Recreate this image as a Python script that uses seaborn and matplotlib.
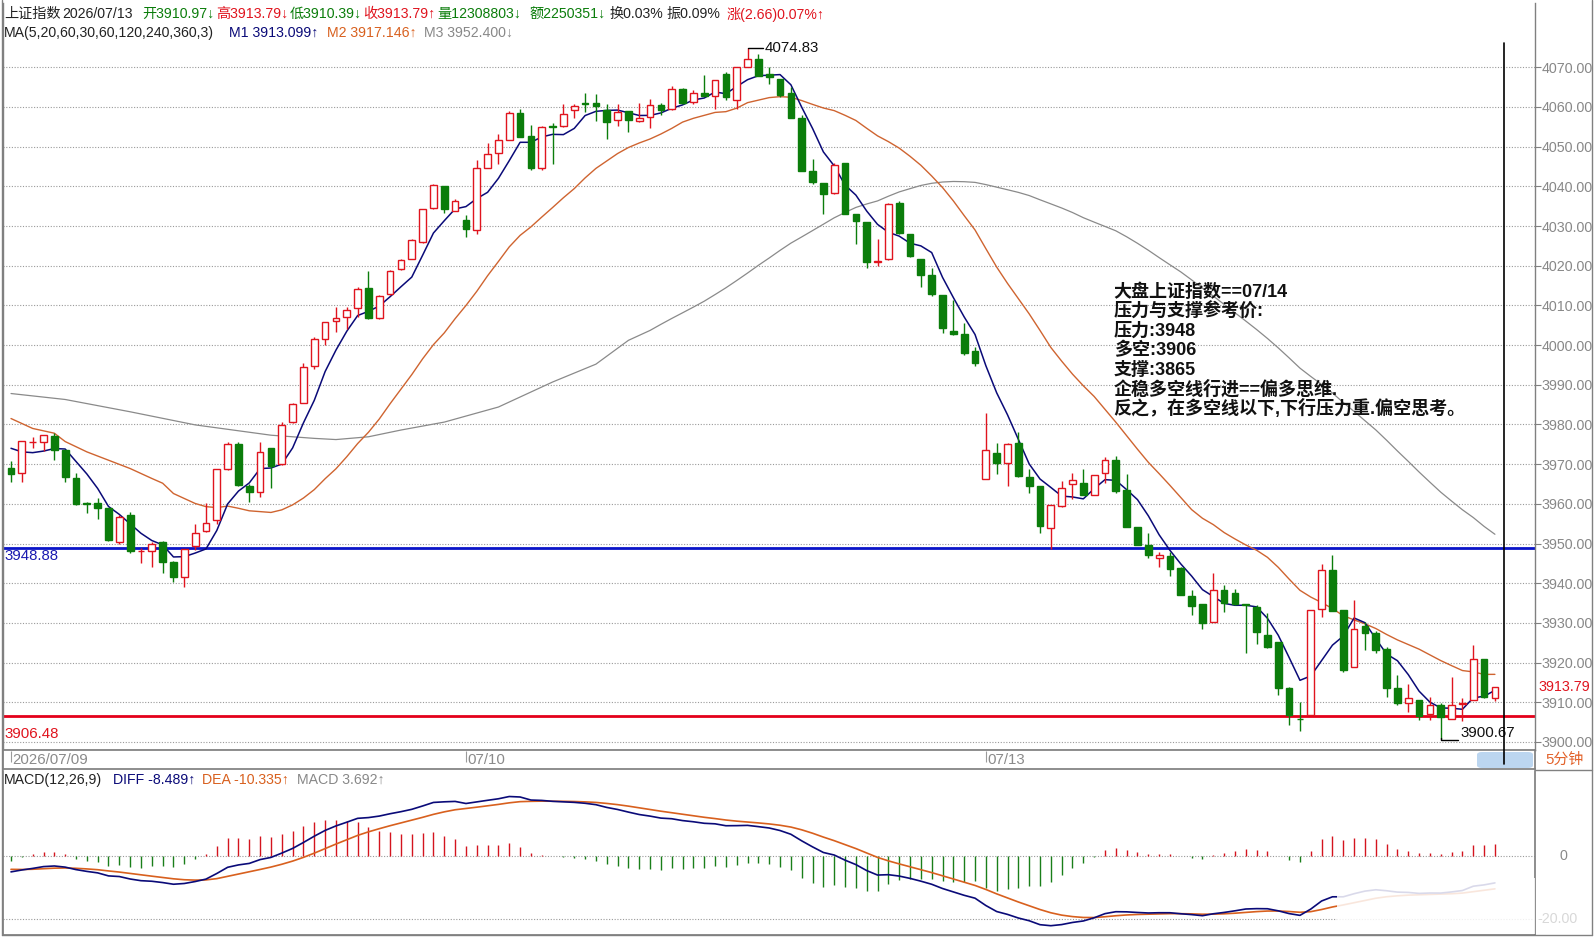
import numpy as np
import pandas as pd
import matplotlib
matplotlib.use("Agg")
import matplotlib.pyplot as plt
from matplotlib.lines import Line2D
from matplotlib.patches import FancyBboxPatch, Rectangle
import seaborn as sns

# === 5 minute bars, 上证指数 2026/07/09 (partial) - 07/10 - 07/13 ===
opens = [3969.1, 3967.9, 3975.5, 3975.7, 3977.1, 3973.6, 3966.6, 3960.1, 3960.3, 3958.9,
         3950.3, 3957.2, 3948.0, 3948.2, 3950.3, 3945.3, 3941.6, 3949.4, 3953.1, 3955.9,
         3968.8, 3975.2, 3964.5, 3962.9, 3974.0, 3970.0, 3980.7, 3985.5, 3994.8, 4001.5,
         4006.1, 4007.1, 4009.4, 4014.5, 4006.9, 4012.8, 4019.3, 4021.8, 4026.0, 4034.6,
         4040.0, 4033.8, 4031.4, 4029.1, 4044.7, 4048.4, 4051.8, 4058.6, 4052.6, 4044.5,
         4055.3, 4055.1, 4059.2, 4061.0, 4061.0, 4059.3, 4056.6, 4058.9, 4056.4, 4057.6,
         4060.4, 4059.6, 4064.6, 4061.3, 4063.5, 4062.7, 4068.2, 4061.7, 4070.1, 4072.2,
         4068.2, 4067.1, 4063.4, 4057.2, 4043.8, 4040.9, 4038.3, 4046.0, 4033.1, 4031.0,
         4021.0, 4021.8, 4035.9, 4028.1, 4021.8, 4017.7, 4012.5, 4003.6, 4002.8, 3998.5,
         3966.2, 3972.7, 3970.4, 3975.3, 3966.8, 3964.6, 3953.8, 3959.4, 3964.9, 3965.3,
         3962.2, 3967.7, 3971.0, 3963.4, 3954.2, 3949.6, 3946.4, 3946.9, 3943.8, 3936.7,
         3934.7, 3930.2, 3938.3, 3937.5, 3934.7, 3934.1, 3927.0, 3925.1, 3913.5, 3905.9,
         3906.9, 3933.5, 3943.4, 3933.3, 3919.0, 3929.1, 3927.4, 3923.4, 3913.7, 3909.9,
         3910.7, 3907.0, 3909.4, 3905.9, 3909.5, 3910.7, 3920.9, 3910.97]
highs = [3970.8, 3975.8, 3976.9, 3977.3, 3977.8, 3973.6, 3967.7, 3960.5, 3961.6, 3959.0,
         3957.2, 3958.0, 3948.8, 3950.5, 3950.7, 3945.6, 3948.5, 3954.9, 3960.3, 3968.7,
         3975.5, 3975.5, 3965.0, 3975.7, 3974.1, 3980.7, 3985.3, 3995.5, 4002.0, 4005.9,
         4009.6, 4009.6, 4014.6, 4018.7, 4012.5, 4018.8, 4021.8, 4026.7, 4034.4, 4040.5,
         4040.0, 4036.9, 4032.7, 4046.6, 4050.9, 4053.3, 4059.0, 4059.4, 4055.4, 4055.1,
         4056.0, 4060.8, 4060.7, 4063.6, 4063.2, 4060.8, 4060.8, 4058.9, 4061.1, 4062.1,
         4061.0, 4065.3, 4064.8, 4064.2, 4068.0, 4066.9, 4068.8, 4070.1, 4074.83, 4073.4,
         4070.1, 4067.1, 4065.0, 4057.9, 4047.0, 4040.9, 4045.9, 4046.0, 4033.1, 4031.0,
         4026.8, 4035.8, 4036.2, 4028.1, 4021.8, 4019.4, 4012.5, 4011.3, 4005.5, 3999.5,
         3982.9, 3975.4, 3975.3, 3978.2, 3968.7, 3964.6, 3959.6, 3965.7, 3967.8, 3968.7,
         3967.3, 3971.8, 3972.1, 3967.6, 3954.2, 3952.7, 3947.9, 3947.9, 3944.2, 3938.2,
         3934.7, 3942.6, 3939.6, 3938.5, 3934.7, 3934.5, 3932.4, 3925.1, 3913.9, 3910.1,
         3933.3, 3944.9, 3947.0, 3933.3, 3935.8, 3930.3, 3928.0, 3924.0, 3916.8, 3914.5,
         3910.7, 3911.4, 3909.7, 3916.4, 3911.0, 3924.4, 3920.9, 3913.79]
lows = [3965.4, 3965.6, 3974.0, 3973.3, 3971.0, 3965.6, 3959.7, 3957.6, 3956.1, 3950.6,
        3950.0, 3947.7, 3945.0, 3944.2, 3942.5, 3940.4, 3939.1, 3948.4, 3953.0, 3954.9,
        3968.5, 3964.5, 3960.5, 3961.8, 3963.9, 3969.8, 3980.4, 3985.3, 3994.0, 4000.0,
        4003.3, 4004.1, 4007.1, 4006.7, 4006.7, 4012.5, 4018.8, 4021.6, 4025.7, 4034.4,
        4033.3, 4033.8, 4027.2, 4028.1, 4044.5, 4045.6, 4051.6, 4052.4, 4044.2, 4044.2,
        4045.7, 4055.0, 4057.1, 4058.7, 4056.5, 4052.0, 4055.2, 4053.7, 4056.1, 4054.8,
        4057.9, 4059.3, 4060.8, 4060.7, 4062.8, 4059.6, 4061.8, 4059.4, 4070.1, 4067.8,
        4065.7, 4062.4, 4057.3, 4043.9, 4040.5, 4033.0, 4038.0, 4033.1, 4025.6, 4019.4,
        4019.9, 4021.5, 4028.1, 4022.2, 4014.6, 4012.3, 4003.0, 4002.5, 3997.5, 3994.8,
        3966.2, 3967.4, 3964.6, 3966.8, 3962.8, 3952.7, 3948.5, 3959.2, 3961.1, 3962.2,
        3962.2, 3965.3, 3962.8, 3954.2, 3949.6, 3946.4, 3944.2, 3941.9, 3937.1, 3932.0,
        3928.4, 3930.2, 3932.7, 3934.5, 3922.3, 3924.6, 3923.6, 3911.8, 3904.4, 3902.7,
        3906.9, 3931.6, 3932.9, 3917.7, 3919.0, 3923.2, 3922.3, 3911.4, 3909.3, 3907.6,
        3905.5, 3905.5, 3900.67, 3905.9, 3905.2, 3910.7, 3911.0, 3910.39]
closes = [3967.4, 3975.8, 3975.6, 3977.3, 3973.6, 3966.8, 3960.0, 3960.0, 3959.0, 3950.9,
          3956.8, 3948.1, 3948.1, 3949.9, 3945.4, 3941.6, 3948.5, 3952.6, 3955.1, 3968.7,
          3975.0, 3964.7, 3962.9, 3973.1, 3969.5, 3979.9, 3985.1, 3994.5, 4001.5, 4005.7,
          4006.9, 4008.9, 4014.2, 4006.9, 4012.3, 4018.7, 4021.4, 4026.4, 4034.4, 4040.3,
          4034.2, 4036.3, 4029.3, 4044.5, 4048.2, 4051.8, 4058.6, 4052.4, 4044.5, 4055.0,
          4055.0, 4058.3, 4060.2, 4060.7, 4060.3, 4056.2, 4058.7, 4056.8, 4057.3, 4060.4,
          4059.3, 4064.6, 4061.0, 4063.6, 4062.8, 4066.9, 4062.4, 4070.1, 4072.2, 4067.8,
          4067.6, 4063.1, 4057.3, 4043.9, 4041.1, 4038.0, 4045.5, 4033.1, 4031.3, 4021.0,
          4021.2, 4035.6, 4028.2, 4022.4, 4017.6, 4012.8, 4004.4, 4002.7, 3998.0, 3995.5,
          3973.5, 3970.2, 3975.0, 3967.0, 3964.6, 3954.5, 3959.6, 3964.1, 3965.9, 3962.2,
          3967.3, 3971.0, 3963.2, 3954.2, 3949.6, 3947.0, 3947.0, 3943.6, 3937.1, 3934.3,
          3929.9, 3938.3, 3935.0, 3934.7, 3934.4, 3927.8, 3923.9, 3913.6, 3906.7, 3905.7,
          3933.3, 3943.4, 3932.9, 3918.1, 3928.5, 3927.4, 3923.2, 3913.6, 3909.7, 3911.0,
          3906.5, 3909.4, 3906.3, 3909.3, 3909.7, 3920.9, 3911.4, 3913.79]

ma5_head = [3974.0, 3973.1, 3972.9, 3973.3]
ma20_head_idx = [0, 2, 4, 5, 7, 9, 11, 13, 14, 15, 17, 18]
ma20_head_val = [3981.5, 3979.0, 3977.8, 3975.7, 3973.1, 3971.0, 3968.9, 3966.4, 3965.2, 3962.6, 3960.1, 3959.3]
ma60_head_idx = [0, 5, 11, 17, 24, 28, 30, 33, 36, 40, 45, 50, 54, 57]
ma60_head_val = [3987.8, 3986.3, 3983.2, 3979.9, 3977.3, 3976.5, 3976.2, 3976.9, 3978.6, 3980.6,
                 3984.4, 3990.7, 3995.2, 4001.2]

# MACD state at the first bar
diff_start = -5.0
dea_start = -4.2
ema26_start = 3978.0

day_start_idx = [0, 42, 90]
day_labels = ["2026/07/09", "07/10", "07/13"]

pressure_line = 3948.88
pivot_line = 3906.48

note_lines = ["大盘上证指数==07/14", "压力与支撑参考价:", "压力:3948", "多空:3906", "支撑:3865",
              "企稳多空线行进==偏多思维.", "反之，在多空线以下,下行压力重.偏空思考。"]

RED = "#e0141e"
GREEN = "#0b7d0b"
NAVY = "#0a0a78"
ORANGE = "#d8601e"

sns.set_theme(style="white")
plt.rcParams['font.family'] = ['Liberation Sans', 'Noto Sans CJK SC', 'DejaVu Sans']
plt.rcParams['axes.unicode_minus'] = False

W, H = 1596, 938
def box(x0, y0, x1, y1):
    return [x0 / W, 1 - y1 / H, (x1 - x0) / W, (y1 - y0) / H]

def ft(x, y, s, **kw):
    fig.text(x / W, 1 - y / H, s, va="center", ha="left", **kw)

def fline(xs, ys, **kw):
    fig.add_artist(Line2D([x / W for x in xs], [1 - y / H for y in ys], transform=fig.transFigure, **kw))

fig = plt.figure(figsize=(W / 100, H / 100), dpi=100)
fig.patch.set_facecolor("white")

ax = fig.add_axes(box(3, 3, 1535, 750))
axd = fig.add_axes(box(3, 750, 1535, 769))
axm = fig.add_axes(box(3, 771, 1535, 935))

xlim = (-0.74, 140.7)
idx = np.arange(len(closes))
o = np.array(opens); c = np.array(closes); hi = np.array(highs); lo = np.array(lows)
up = c >= o
cols = np.where(up, RED, GREEN)
face = np.where(up, "white", GREEN)

# === price panel ===
for lv in range(3900, 4071, 10):
    ax.axhline(lv, color="#9a9a9a", lw=0.8, ls=(0, (1, 1.5)), zorder=1)

ax.axhline(pressure_line, color="#0a14c8", lw=2, zorder=2)
ax.axhline(pivot_line, color="#e4001a", lw=2, zorder=2)

# moving averages
cs = pd.Series(closes)
ma5 = cs.rolling(5).mean()
ma5.iloc[:4] = ma5_head
ma20 = cs.rolling(20).mean()
ma20.iloc[ma20_head_idx] = ma20_head_val
ma60 = cs.rolling(60).mean()
ma60.iloc[ma60_head_idx] = ma60_head_val
for ser, col, lw in [(ma60, "#8a8a8a", 0.9), (ma20, "#cf6430", 1.0), (ma5, NAVY, 1.1)]:
    s = ser.dropna()
    sns.lineplot(x=s.index.values, y=s.values, ax=ax, color=col, linewidth=lw, legend=False, zorder=3)

# candles
ax.vlines(idx, lo, hi, colors=cols, lw=1, zorder=4)
ax.bar(idx, np.abs(c - o), bottom=np.minimum(o, c), width=0.62, color=face,
       edgecolor=cols, linewidth=1, zorder=5)

# max / min markers
imax = int(np.argmax(hi)); imin = int(np.argmin(lo))
ax.plot([imax, imax + 1.45], [hi[imax]] * 2, color="black", lw=1, zorder=6)
ax.text(imax + 1.55, hi[imax], f"{hi[imax]:.2f}", fontsize=10.8, va="center", color="#111111")
ax.plot([imin, imin, imin + 1.6], [lo[imin] + 0.3, lo[imin] - 0.2, lo[imin] - 0.2], color="black", lw=1, zorder=6)
ax.text(imin + 1.8, lo[imin] - 0.2, f"{lo[imin]:.2f}", fontsize=10.8, va="bottom", color="#111111")

ax.text(-0.65, pressure_line - 1.9, f"{pressure_line:.2f}", color="#1a1ab0", fontsize=10.8, va="center")
ax.text(-0.65, pivot_line - 4.4, f"{pivot_line:.2f}", color=RED, fontsize=10.8, va="center")

for k, line in enumerate(note_lines):
    ax.text(101.8, 4013.3 - k * 4.89, line, fontsize=13, fontweight="bold", color="#111111", va="center")

ax.set_xlim(*xlim)
ax.set_ylim(3897.98, 4086.2)
ax.yaxis.tick_right()
ax.set_yticks(range(3900, 4071, 10))
ax.set_yticklabels([f"{v:.2f}" for v in range(3900, 4071, 10)])
ax.tick_params(axis="y", right=True, length=4, width=0.8, color="#808080", labelcolor="#888888",
               labelsize=10.3, pad=1)
ax.set_xticks([])
ax.text(1.002, closes[-1], f"{closes[-1]:.2f}", transform=ax.get_yaxis_transform(), color=RED,
        fontsize=10.3, va="center", ha="left", zorder=8,
        bbox=dict(facecolor="white", edgecolor="none", pad=0.5))
for side in ["left", "right", "bottom"]:
    ax.spines[side].set_color("#808080"); ax.spines[side].set_linewidth(1)
ax.spines["top"].set_visible(False)
ax.set_xlabel(""); ax.set_ylabel("")

# === date axis ===
axd.set_xlim(*xlim); axd.set_ylim(0, 1)
axd.set_xticks([]); axd.set_yticks([])
axd.vlines(day_start_idx, 0.35, 0.95, color="#9a9a9a", lw=0.8)
for i, lab in zip(day_start_idx, day_labels):
    axd.text(i + 0.15, 0.45, lab, color="#8a8a8a", fontsize=10.8, va="center")
for side in axd.spines.values():
    side.set_color("#808080")

# === MACD panel ===
a12, a26, a9 = 2 / 13, 2 / 27, 2 / 10
e12, e26, dea = ema26_start + diff_start, ema26_start, dea_start
diffs, deas = [diff_start], [dea_start]
for cl in closes[1:]:
    e12 += a12 * (cl - e12)
    e26 += a26 * (cl - e26)
    d = e12 - e26
    dea += a9 * (d - dea)
    diffs.append(d); deas.append(dea)
diffs = np.array(diffs); deas = np.array(deas)
hist = 2 * (diffs - deas)

axm.axhline(0, color="#9a9a9a", lw=0.8, ls=(0, (1, 1.5)))
axm.axhline(-20, color="#9a9a9a", lw=0.8, ls=(0, (1, 1.5)))
axm.vlines(idx, 0, hist, colors=np.where(hist >= 0, "#d4141e", "#1a7f1a"), lw=1)
sns.lineplot(x=idx, y=deas, ax=axm, color=ORANGE, linewidth=1.2, legend=False)
sns.lineplot(x=idx, y=diffs, ax=axm, color=NAVY, linewidth=1.2, legend=False)
axm.set_xlim(*xlim); axm.set_ylim(-24.9, 26.8)
axm.set_xticks([]); axm.set_yticks([])
axm.set_xlabel(""); axm.set_ylabel("")
axm.spines["top"].set_visible(False)
for side in ["left", "right", "bottom"]:
    axm.spines[side].set_color("#808080")
# faded watermark area at the lower right
axm.add_patch(Rectangle((122.4, -24.5), 20, 17.5, facecolor="white", edgecolor="none", alpha=0.85, zorder=6))

# === header texts ===
row1 = [("上证指数", 4, "#222222"), ("2026/07/13", 62, "#222222"), ("开3910.97↓", 142, GREEN),
        ("高3913.79↓", 216, RED), ("低3910.39↓", 290, GREEN), ("收3913.79↑", 363, RED),
        ("量12308803↓", 437, GREEN), ("额2250351↓", 529, GREEN), ("换0.03%", 610, "#222222"),
        ("振0.09%", 666, "#222222"), ("涨(2.66)0.07%↑", 727, RED)]
for s, x, col in row1:
    ft(x, 14, s, color=col, fontsize=10.2)
row2 = [("MA(5,20,60,30,60,120,240,360,3)", 4, "#222222"), ("M1 3913.099↑", 229, NAVY),
        ("M2 3917.146↑", 327, ORANGE), ("M3 3952.400↓", 424, "#888888")]
for s, x, col in row2:
    ft(x, 33, s, color=col, fontsize=10.2)
row3 = [("MACD(12,26,9)", 4, "#222222"), ("DIFF -8.489↑", 113, NAVY),
        ("DEA -10.335↑", 202, ORANGE), ("MACD 3.692↑", 297, "#888888")]
for s, x, col in row3:
    ft(x, 780, s, color=col, fontsize=10.2)

ft(1545, 760, "5分钟", color="#e2622a", fontsize=10.8)
ft(1560, 856, "0", color="#8a8a8a", fontsize=10.3)
ft(1537, 919, "-20.00", color="#d8d8d8", fontsize=10.3)

# frame, cursor and selection box
fig.add_artist(FancyBboxPatch((1477 / W, 1 - 768 / H), 56 / W, 16 / H,
                              boxstyle="round,pad=0,rounding_size=0.003",
                              transform=fig.transFigure, facecolor="#bcd6f0", edgecolor="none"))
fline([1504, 1504], [43, 764], color="black", lw=1.2)
fline([2, 2], [0, 935], color="#808080", lw=1)
fline([1592, 1592], [0, 935], color="#808080", lw=1)
fline([1535, 1592], [770, 770], color="#808080", lw=1)
fline([2, 1592], [935, 935], color="#808080", lw=1)

fig.savefig("out.png", dpi=100, facecolor="white")
